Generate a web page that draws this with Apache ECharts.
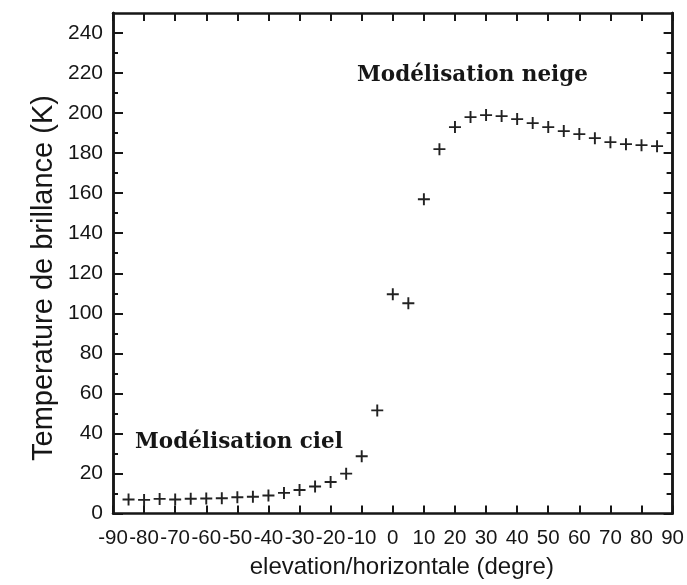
<!DOCTYPE html>
<html>
<head>
<meta charset="utf-8">
<script src="https://cdn.jsdelivr.net/npm/echarts@6/dist/echarts.min.js"></script>
<style>
  html, body { margin: 0; padding: 0; background: #ffffff; }
  #chart { width: 687px; height: 585px; }
</style>
</head>
<body>
<div id="chart"></div>
<script>
// Elevation angle relative to the horizontal (degrees)
const elevation = [-85, -80, -75, -70, -65, -60, -55, -50, -45, -40, -35, -30, -25, -20, -15, -10, -5,
                   0, 5, 10, 15, 20, 25, 30, 35, 40, 45, 50, 55, 60, 65, 70, 75, 80, 85];
// Brightness temperature (K)
const brightnessTemp = [7.0, 6.8, 7.3, 7.0, 7.4, 7.5, 7.6, 8.1, 8.4, 9.0, 10.3, 11.7, 13.5, 15.7, 19.9, 28.6, 51.5,
                        109.5, 105, 157, 182, 193, 198, 199, 198.5, 197, 195, 193, 191, 189.5, 187.5, 185.5, 184.5, 184, 183.5];

const xTicks = [-90, -80, -70, -60, -50, -40, -30, -20, -10, 0, 10, 20, 30, 40, 50, 60, 70, 80, 90];
const yMajorTicks = [0, 20, 40, 60, 80, 100, 120, 140, 160, 180, 200, 220, 240];
const yMinorTicks = [10, 30, 50, 70, 90, 110, 130, 150, 170, 190, 210, 230];

const skyLabel = 'Modélisation ciel';
const snowLabel = 'Modélisation neige';
const xTitle = 'elevation/horizontale (degre)';
const yTitle = 'Temperature de brillance (K)';

const ink = '#161616';
const frame = { show: true, onZero: false, lineStyle: { color: ink, width: 2.5 } };
const sans = 'Liberation Sans, Arial, Helvetica, sans-serif';

const plusSymbol = 'path://M0.42,0H0.58V0.42H1V0.58H0.58V1H0.42V0.58H0V0.42H0.42Z';

function yAxisDef(position, ticks, len, labels) {
  return {
    type: 'value', position: position, min: 0, max: 250,
    axisLine: frame,
    splitLine: { show: false },
    axisTick: { show: true, inside: true, length: len, customValues: ticks,
                lineStyle: { color: ink, width: 2 } },
    axisLabel: labels ? { show: true, customValues: ticks, color: ink, fontFamily: sans,
                          fontSize: 21, margin: 10 } : { show: false }
  };
}

const chart = echarts.init(document.getElementById('chart'), null, { renderer: 'canvas' });
chart.setOption({
  animation: false,
  backgroundColor: '#ffffff',
  grid: { left: 113, right: 14, top: 13, bottom: 71.5, containLabel: false },
  xAxis: [
    {
      type: 'value', position: 'bottom', min: -90, max: 90,
      axisLine: frame, splitLine: { show: false },
      axisTick: { show: true, inside: true, length: 8, customValues: xTicks,
                  lineStyle: { color: ink, width: 2 } },
      axisLabel: { show: true, customValues: xTicks, color: ink, fontFamily: sans,
                   fontSize: 20.5, margin: 14, letterSpacing: -0.8 },
      name: xTitle, nameLocation: 'middle', nameGap: 42,
      nameTextStyle: { color: ink, fontFamily: sans, fontSize: 24, padding: [0, 0, 0, 18] }
    },
    {
      type: 'value', position: 'top', min: -90, max: 90,
      axisLine: frame, splitLine: { show: false },
      axisTick: { show: true, inside: true, length: 8, customValues: xTicks,
                  lineStyle: { color: ink, width: 2 } },
      axisLabel: { show: false }
    }
  ],
  yAxis: [
    yAxisDef('left', yMajorTicks, 10, true),
    yAxisDef('left', yMinorTicks, 5, false),
    yAxisDef('right', yMajorTicks, 9, false),
    yAxisDef('right', yMinorTicks, 6, false)
  ],
  graphic: [
    { type: 'text', x: 44, y: 278, rotation: Math.PI / 2,
      style: { text: yTitle, fill: ink, font: '29px "Liberation Sans", Arial, sans-serif',
               align: 'center', verticalAlign: 'middle' } },
    { type: 'text', left: 357, top: 64,
      style: { text: snowLabel, fill: ink, font: 'bold 21.5px "DejaVu Serif", serif' } },
    { type: 'text', left: 135, top: 431,
      style: { text: skyLabel, fill: ink, font: 'bold 21.5px "DejaVu Serif", serif' } }
  ],
  series: [{
    type: 'scatter',
    xAxisIndex: 0, yAxisIndex: 0,
    data: elevation.map((e, i) => [e, brightnessTemp[i]]),
    symbol: plusSymbol,
    symbolSize: 12,
    itemStyle: { color: '#222222', opacity: 1 },
    silent: true
  }]
});
</script>
</body>
</html>
